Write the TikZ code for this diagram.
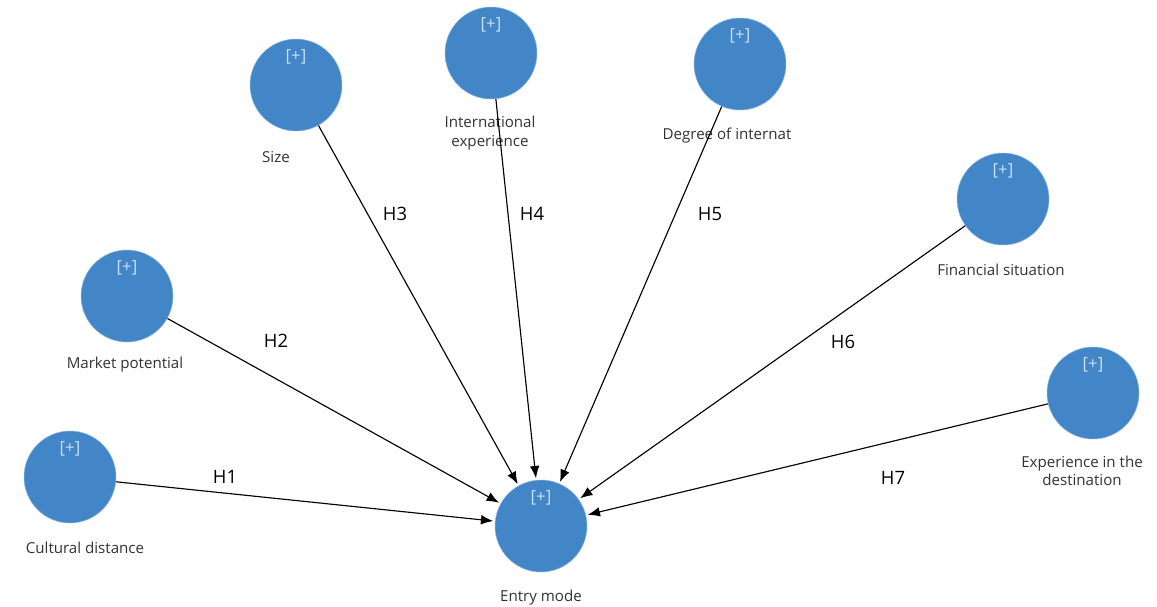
\documentclass[tikz,border=0pt]{standalone}
\usepackage{fontspec}
\setmainfont{Open Sans}
\usetikzlibrary{arrows.meta,positioning}

\definecolor{lvblue}{RGB}{66,134,200}
\definecolor{plusblue}{RGB}{200,225,245}
\definecolor{txtgray}{RGB}{50,50,50}

\begin{document}
\begin{tikzpicture}[x=0.02cm, y=-0.02cm,
    >={Latex[length=7pt,width=5.5pt]},
    every node/.append style={align=center},
    lv/.style={circle, fill=lvblue, draw=lvblue!60, line width=0.3pt,
               minimum size=1.84cm, inner sep=0pt},
    plus/.style={text=plusblue, font=\fontsize{9.5}{10}\selectfont, inner sep=0pt},
    lab/.style={text=txtgray, font=\fontsize{8.6}{10.5}\selectfont, inner sep=0pt},
    hyp/.style={font=\fontsize{10.5}{12}\selectfont, inner sep=0pt},
    path/.style={->, line width=0.65pt, shorten >=1pt}]
   \useasboundingbox (0,0) rectangle (1157,606);
   % latent variables
   \node [lv] (CD) at (70,477)   {};
   \node [lv] (MP) at (127,296)  {};
   \node [lv] (SZ) at (296,85)   {};
   \node [lv] (IE) at (491,53)   {};
   \node [lv] (DI) at (740,64)   {};
   \node [lv] (FS) at (1003,199) {};
   \node [lv] (ED) at (1093,393) {};
   \node [lv] (EM) at (541,526)  {};
   \foreach \n in {CD,MP,SZ,IE,DI,FS,ED,EM}
      \node [plus, below=6pt of \n.north] {[+]};
   % names
   \node [lab] (lCD) at (85,548)   {Cultural distance};
   \node [lab] (lMP) at (125,365)  {Market potential};
   \node [lab] (lSZ) at (276,157)  {Size};
   \node [lab] (lIE) at (490,133)  {International\\experience};
   \node [lab] (lDI) at (727,136)  {Degree of internat};
   \node [lab] (lFS) at (1001,270) {Financial situation};
   \node [lab] (lED) at (1082,471) {Experience in the\\destination};
   \node [lab] (lEM) at (541,598)  {Entry mode};
   % paths
   \foreach \n in {CD,MP,SZ,IE,DI,FS,ED}
      \draw [path] (\n) -- (EM);
   \node [hyp] (H1) at (225,477) {H1};
   \node [hyp] (H2) at (276,341) {H2};
   \node [hyp] (H3) at (395,214) {H3};
   \node [hyp] (H4) at (532,214) {H4};
   \node [hyp] (H5) at (710,214) {H5};
   \node [hyp] (H6) at (843,342) {H6};
   \node [hyp] (H7) at (893,478) {H7};
\end{tikzpicture}
\end{document}
